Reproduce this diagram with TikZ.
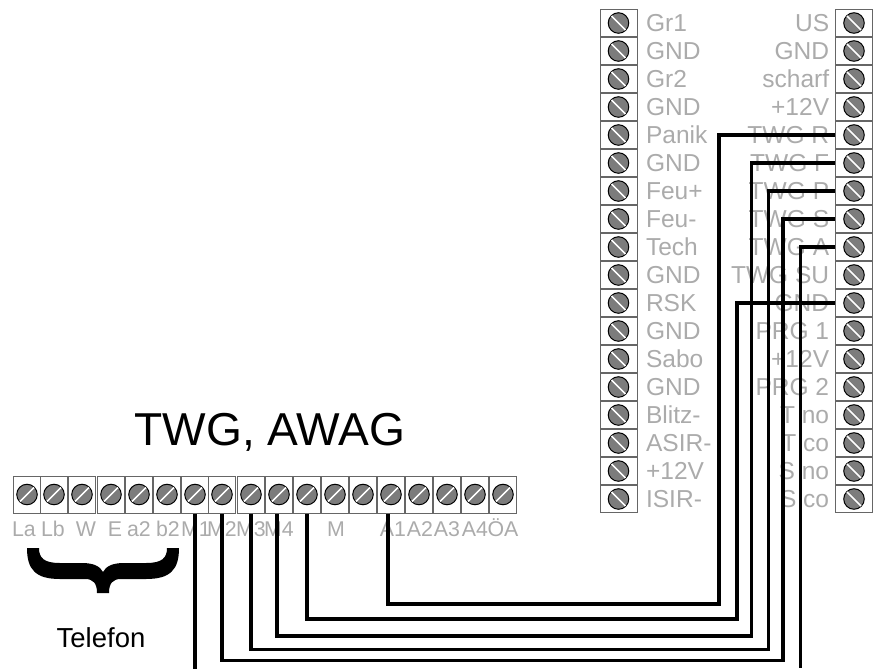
\documentclass[tikz,border=0pt]{standalone}
\usepackage{fontspec}
\setmainfont{Liberation Sans}
\usetikzlibrary{positioning}
\definecolor{lblgray}{HTML}{ABABAB}
\definecolor{screwgray}{HTML}{7C7C7C}
\tikzset{
    klemme/.style={draw=black!60, fill=white, line width=0.75bp, inner sep=0pt,
        path picture={
            \draw[black, fill=screwgray, line width=0.75bp] (path picture bounding box.center) circle (7.7bp);
            \draw[black!55, line width=2bp] (path picture bounding box.center) ++(#1:7.3bp) -- ++(#1+180:14.6bp);
            \draw[white, line width=1.2bp] (path picture bounding box.center) ++(#1:7.3bp) -- ++(#1+180:14.6bp);
        }},
    klemmeh/.style={klemme=135, minimum width=27.75bp, minimum height=20bp},
    klemmeu/.style={klemme=45, minimum width=20.5bp, minimum height=27.75bp},
    lbl/.style={text=lblgray, font=\fontsize{18.4bp}{20bp}\selectfont, inner sep=0pt, text height=12.4bp, text depth=0pt},
    lblu/.style={text=lblgray, font=\fontsize{16bp}{18bp}\selectfont, inner sep=0pt, text height=10.6bp, text depth=0pt},
    wire/.style={black, line width=2.4bp, line join=miter},
}
\begin{document}
\begin{tikzpicture}[x=0.75bp, y=-0.75bp]
    \useasboundingbox (0,0) rectangle (875,669);

    \foreach \i/\t in {1/Gr1,2/GND,3/Gr2,4/GND,5/Panik,6/GND,7/Feu+,8/Feu-,9/Tech,10/GND,11/RSK,12/GND,13/Sabo,14/GND,15/Blitz-,16/ASIR-,17/+12V,18/ISIR-} {
        \pgfmathsetmacro{\y}{23+28*(\i-1)}
        \node[klemmeh] (l\i) at (618.5,\y) {};
        \node[lbl, right=6.2bp of l\i] (ll\i) {\t};
    }
    \foreach \i/\t in {1/US,2/GND,3/scharf,4/+12V,5/TWG R,6/TWG F,7/TWG P,8/TWG S,9/TWG A,10/TWG SU,11/GND,12/PRG 1,13/+12V,14/PRG 2,15/T no,16/T co,17/S no,18/S co} {
        \pgfmathsetmacro{\y}{23+28*(\i-1)}
        \node[klemmeh] (r\i) at (854,\y) {};
        \node[lbl, left=4.2bp of r\i] (lr\i) {\t};
    }

    \foreach \i/\x/\t/\s in {1/27/La/-3,2/54/Lb/-1,3/82/W/4,4/111/E/4,5/139/a2/0,6/167/b2/1,7/195/M1/1,8/222/M2/0,9/251/M3/0,10/279/M4/0,11/307/{}/0,12/335/M/1,13/363/{}/0,14/391/A1/2,15/419/A2/1,16/447/A3/0,17/475/A4/0,18/503/ÖA/0} {
        \node[klemmeu] (b\i) at (\x,494.5) {};
        \node[lblu, below=6.5bp of b\i, xshift=\s*0.75bp] (lb\i) {\t};
    }

    \node[font=\fontsize{34.6bp}{38bp}\selectfont, anchor=base] (titel) at (270,445) {TWG, AWAG};
    \node[font=\fontsize{20.6bp}{23bp}\selectfont, anchor=base] (telefon) at (101,647) {Telefon};

    \fill[black] (27,548) .. controls (27,570) and (36,579) .. (60,579) -- (85,579)
        .. controls (93,579) and (97,583) .. (97,593) -- (109,593)
        .. controls (109,583) and (113,579) .. (121,579) -- (146,579)
        .. controls (170,579) and (179,570) .. (179,548) -- (167,548)
        .. controls (167,558) and (162,563) .. (146,563) -- (124,563)
        .. controls (113,563) and (106,566) .. (103,572)
        .. controls (100,566) and (93,563) .. (82,563) -- (60,563)
        .. controls (44,563) and (39,558) .. (39,548) -- cycle;

    \coordinate (k1) at (719,604);
    \coordinate (k2) at (737,619);
    \coordinate (k3) at (751.5,636);
    \coordinate (k4) at (768.5,649.5);
    \coordinate (k5) at (783,660.5);
    \coordinate (e1) at (195,669);
    \coordinate (e2) at (800.5,668);

    \draw[wire] ([xshift=-2.25bp]b14.south) |- (k1) |- (r5.west);
    \draw[wire] (b11.south) |- (k2) |- (r11.west);
    \draw[wire] ([xshift=-1.5bp]b10.south) |- (k3) |- (r6.west);
    \draw[wire] (b9.south) |- (k4) |- (r7.west);
    \draw[wire] (b8.south) |- (k5) |- (r8.west);
    \draw[wire] (b7.south) -- (e1);
    \draw[wire] (r9.west) -| (e2);
\end{tikzpicture}
\end{document}
